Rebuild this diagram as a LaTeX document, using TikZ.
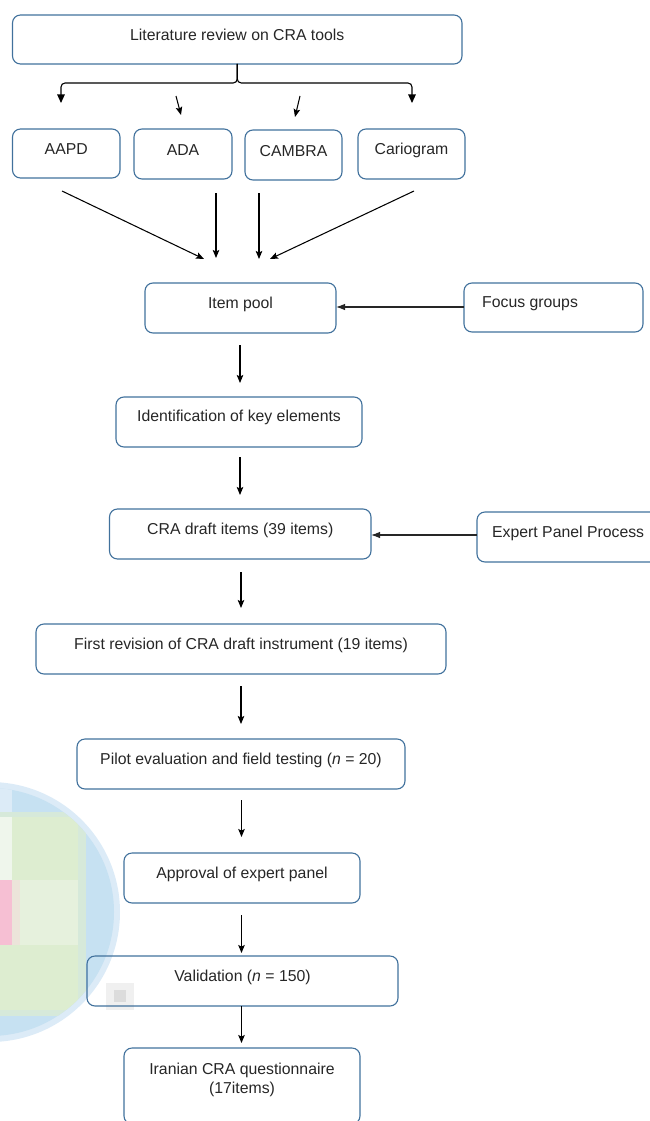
\documentclass[tikz,border=0pt]{standalone}
\usepackage{fontspec}
\setmainfont{Liberation Sans}
\usetikzlibrary{arrows.meta,calc}
\definecolor{boxblue}{HTML}{41719C}
\definecolor{txtgrey}{HTML}{262626}
\definecolor{blobblue}{HTML}{C6E1F2}
\definecolor{blobedge}{HTML}{DCEBF7}
\definecolor{blobgreen}{HTML}{DDEDD0}
\definecolor{blobgreenl}{HTML}{E6F1DD}
\definecolor{blobwhite}{HTML}{EFF6EC}
\definecolor{blobpink}{HTML}{F6BFD3}
\definecolor{blobbeige}{HTML}{ECE4DA}
\definecolor{blobgrey}{HTML}{DCDCDC}
\definecolor{blobgreyl}{HTML}{F0F0F0}
\begin{document}
\begin{tikzpicture}[x=1pt,y=-1pt,
  box/.style={draw=boxblue, line width=1.1pt, rounded corners=8pt, inner sep=0pt, outer sep=0pt},
  lbl/.style={text=txtgrey, font=\fontsize{15.8}{19}\selectfont, inner sep=0pt, align=center},
  arr/.style={draw=black, line width=1.05pt, -{Stealth[length=8pt,width=6.5pt,inset=1.5pt]}},
  bigarr/.style={draw=black, line width=1.1pt, -{Triangle[length=8.5pt,width=7.5pt]}},
  sidearr/.style={draw=black!85, line width=1.1pt, -{Latex[length=9pt,width=6.5pt]}}
]
\useasboundingbox (0,0) rectangle (649,1121);

% background blurred blob on the left
\begin{scope}
  \clip (0,0) rectangle (649,1121);
  \fill[blobedge] (-10,912) circle[radius=130pt];
  \fill[blobblue] (-10,912) circle[radius=124pt];
  \begin{scope}
    \clip (-10,912) circle[radius=124pt];
    \fill[blobedge] (0,783) rectangle (12,817);
    \fill[blobgreen!70!blobblue] (0,812) rectangle (86,1016);
    \fill[blobgreen] (0,817) rectangle (78,1010);
    \fill[blobgreenl] (12,880) rectangle (78,945);
    \fill[blobwhite] (0,817) rectangle (12,880);
    \fill[blobpink] (0,880) rectangle (12,945);
    \fill[blobbeige] (12,880) rectangle (20,945);
  \end{scope}
  \fill[blobgreyl] (106,983) rectangle (134,1010);
  \fill[blobgrey] (114,990) rectangle (126,1002);
\end{scope}

% boxes
\node[box, minimum width=449.5pt, minimum height=49pt] (lit) at (237.25,39.5) {};
\node[box, minimum width=107.5pt, minimum height=49pt] (aapd) at (66.25,153.5) {};
\node[box, minimum width=98pt, minimum height=50pt] (ada) at (183,154) {};
\node[box, minimum width=97pt, minimum height=50pt] (cambra) at (293.5,155) {};
\node[box, minimum width=107pt, minimum height=50pt] (cario) at (411.5,154) {};
\node[box, minimum width=191pt, minimum height=50pt] (pool) at (240.5,308) {};
\node[box, minimum width=179pt, minimum height=49pt] (focus) at (553.5,307.5) {};
\node[box, minimum width=246pt, minimum height=50pt] (ident) at (239,422) {};
\node[box, minimum width=261.5pt, minimum height=50pt] (draft) at (240.25,534) {};
\node[box, minimum width=188pt, minimum height=50pt] (expert) at (571,537) {};
\node[box, minimum width=410pt, minimum height=50pt] (first) at (241,649) {};
\node[box, minimum width=328pt, minimum height=50pt] (pilot) at (241,764) {};
\node[box, minimum width=236pt, minimum height=50pt] (approval) at (242,878) {};
\node[box, minimum width=311pt, minimum height=50pt] (valid) at (242.5,981) {};
\node[box, minimum width=236pt, minimum height=76pt] (iran) at (242,1086) {};

% texts
\node[lbl] (litT) at ($(lit.center)+(0,-4.5)$) {Literature review on CRA tools};
\node[lbl] (aapdT) at ($(aapd.center)+(0,-4)$) {AAPD};
\node[lbl] (adaT) at ($(ada.center)+(0,-4)$) {ADA};
\node[lbl] (cambraT) at ($(cambra.center)+(0,-4)$) {CAMBRA};
\node[lbl] (carioT) at ($(cario.center)+(0,-4)$) {Cariogram};
\node[lbl] (poolT) at ($(pool.center)+(0,-4)$) {Item pool};
\node[lbl, anchor=west] (focusT) at (482,304) {Focus groups};
\node[lbl] (identT) at ($(ident.center)+(0,-5)$) {Identification of key elements};
\node[lbl] (draftT) at ($(draft.center)+(0,-4)$) {CRA draft items (39 items)};
\node[lbl, anchor=west] (expertT) at (492,533) {Expert Panel Process};
\node[lbl] (firstT) at ($(first.center)+(0,-4)$) {First revision of CRA draft instrument (19 items)};
\node[lbl] (pilotT) at ($(pilot.center)+(0,-4)$) {Pilot evaluation and field testing (\textit{n} = 20)};
\node[lbl] (approvalT) at ($(approval.center)+(0,-4)$) {Approval of expert panel};
\node[lbl] (validT) at ($(valid.center)+(0,-4)$) {Validation (\textit{n} = 150)};
\node[lbl] (iranT) at (242,1079.5) {Iranian CRA questionnaire\\(17items)};

% branching from literature review
\coordinate (brL) at (61,103);
\coordinate (brR) at (412,103);
\draw[bigarr, rounded corners=4pt] (lit.south) -- (lit.south |- 0,83) -- (61,83) -- (brL);
\draw[bigarr, rounded corners=4pt] (lit.south) -- (lit.south |- 0,83) -- (412,83) -- (brR);
\coordinate (adaA) at (176,96);
\coordinate (adaB) at (181,115);
\coordinate (camA) at (300,96);
\coordinate (camB) at (295,117);
\draw[arr] (adaA) -- (adaB);
\draw[arr] (camA) -- (camB);

% arrows into item pool
\coordinate (aapdS) at (62,191);
\coordinate (aapdE) at (204,259);
\coordinate (adaS) at (216,193);
\coordinate (adaE) at (216,258);
\coordinate (camS) at (259,193);
\coordinate (camE) at (259,259);
\coordinate (carS) at (414,191);
\coordinate (carE) at (270,259);
\draw[arr] (aapdS) -- (aapdE);
\draw[arr] (adaS) -- (adaE);
\draw[arr] (camS) -- (camE);
\draw[arr] (carS) -- (carE);

% side inputs
\draw[sidearr] (focus.west |- 0,307) -- (pool.east |- 0,307);
\draw[sidearr] (expert.west |- 0,535) -- (draft.east |- 0,535);

% main chain
\draw[arr, shorten <=12pt, shorten >=14pt] (pool.south -| 240,0) -- (ident.north -| 240,0);
\draw[arr, shorten <=10pt, shorten >=14pt] (ident.south -| 240,0) -- (draft.north -| 240,0);
\draw[arr, shorten <=13pt, shorten >=16pt] (draft.south -| 241,0) -- (first.north -| 241,0);
\draw[arr, shorten <=12pt, shorten >=15pt] (first.south -| 241,0) -- (pilot.north -| 241,0);
\draw[arr, shorten <=11pt, shorten >=16pt] (pilot.south -| 241.5,0) -- (approval.north -| 241.5,0);
\draw[arr, shorten <=12pt, shorten >=3pt] (approval.south -| 241.5,0) -- (valid.north -| 241.5,0);
\draw[arr, shorten >=5pt] (valid.south -| 241.5,0) -- (iran.north -| 241.5,0);
\end{tikzpicture}
\end{document}
